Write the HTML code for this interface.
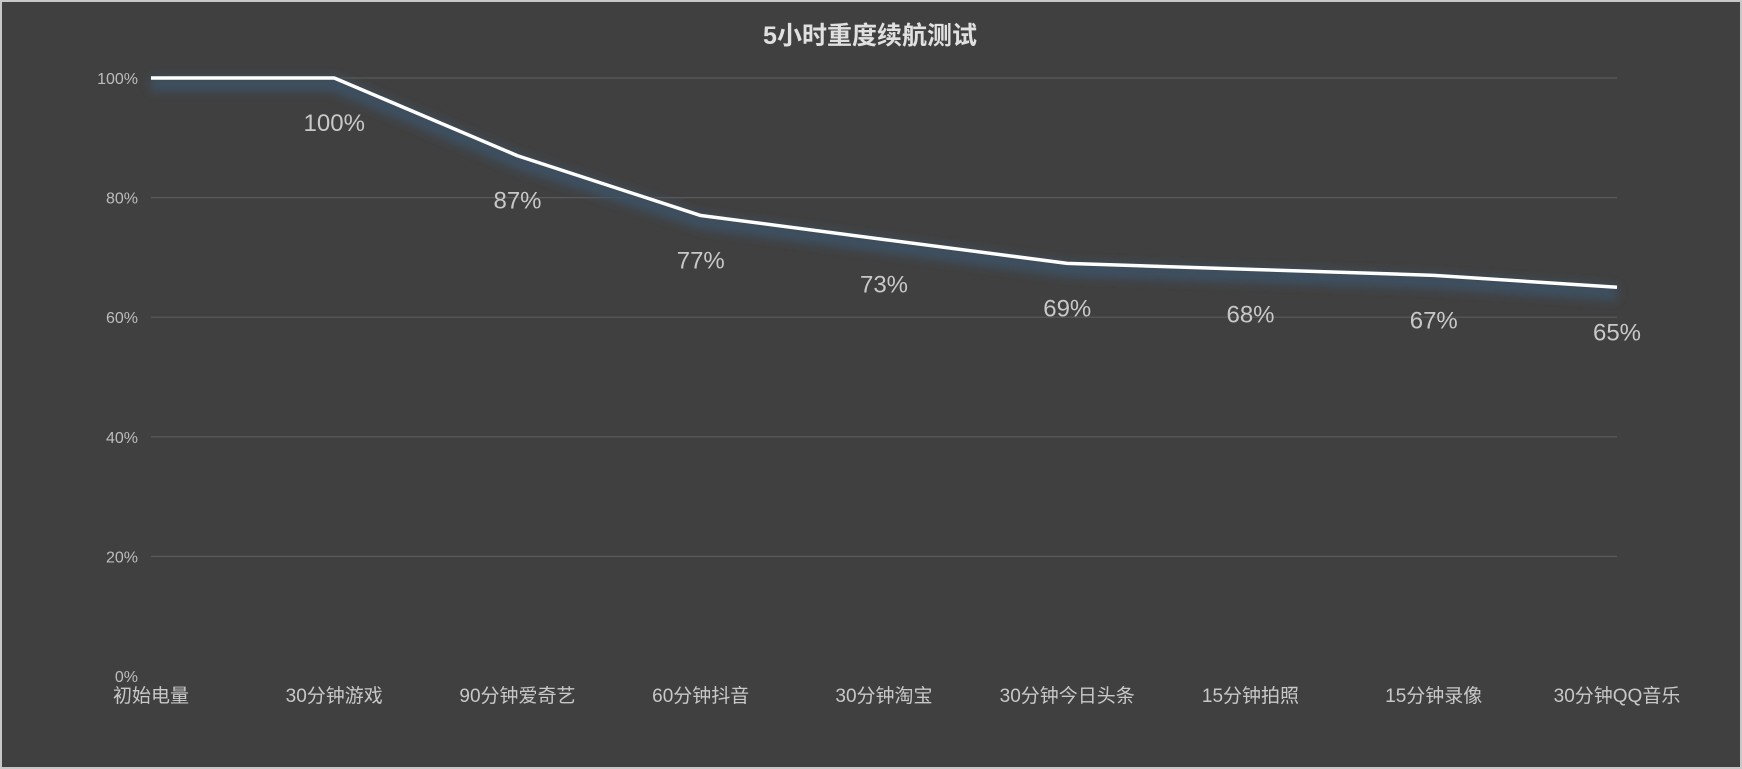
<!DOCTYPE html>
<html><head><meta charset="utf-8"><style>
html,body{margin:0;padding:0;background:#404040;}
svg{display:block;font-family:"Liberation Sans","Noto Sans CJK SC",sans-serif;}
</style></head><body>
<svg id="chart" width="1742" height="769" viewBox="0 0 1742 769">
<defs><filter id="blur" x="-10%" y="-50%" width="120%" height="200%"><feGaussianBlur stdDeviation="5"/></filter></defs>
<rect x="1" y="1" width="1740" height="767" fill="#404040" stroke="#c8c8c8" stroke-width="2"/>
<text x="870" y="44" text-anchor="middle" font-size="25" font-weight="bold" fill="#e0e0e0">5小时重度续航测试</text>
<g id="grid"></g><g id="yticks"></g><g id="xticks"></g><g id="series"></g><g id="labels"></g>
</svg>
<script>
const categories=["初始电量","30分钟游戏","90分钟爱奇艺","60分钟抖音","30分钟淘宝","30分钟今日头条","15分钟拍照","15分钟录像","30分钟QQ音乐"];
const values=[100,100,87,77,73,69,68,67,65];
const valueLabels=["","100%","87%","77%","73%","69%","68%","67%","65%"];
const yTicks=[0,20,40,60,80,100];
const yTickLabels=["0%","20%","40%","60%","80%","100%"];
const NS="http://www.w3.org/2000/svg";
const x0=151,x1=1617,yTop=78,yBot=676;
const xs=i=>x0+(x1-x0)*i/(categories.length-1);
const ys=v=>yBot-(yBot-yTop)*v/100;
function mk(tag,attrs,parent){const e=document.createElementNS(NS,tag);for(const k in attrs)e.setAttribute(k,attrs[k]);document.getElementById(parent).appendChild(e);return e;}
yTicks.forEach((t,i)=>{
  if(t>0){const l=mk('line',{x1:x0,x2:x1,y1:ys(t),y2:ys(t),stroke:'#5a5a5a','stroke-width':1.2},'grid');
  
  }
  const tx=mk('text',{x:138,y:ys(t)+6,'text-anchor':'end','font-size':16,fill:'#bdbdbd'},'yticks');
  tx.textContent=yTickLabels[i];
  
  
});
categories.forEach((c,i)=>{
  const tx=mk('text',{x:xs(i),y:702,'text-anchor':'middle','font-size':19,fill:'#c8c8c8'},'xticks');
  tx.textContent=c;
  
  
});
const pts=values.map((v,i)=>xs(i)+','+ys(v)).join(' ');
const glow=mk('polyline',{points:pts,fill:'none',stroke:'#3d5163','stroke-width':14,filter:'url(#blur)',transform:'translate(0,6)'},'series');


const line=mk('polyline',{points:pts,fill:'none',stroke:'#ffffff','stroke-width':3.5,'stroke-linejoin':'round'},'series');


values.forEach((v,i)=>{
  if(!valueLabels[i])return;
  const tx=mk('text',{x:xs(i),y:ys(v)+53,'text-anchor':'middle','font-size':24,fill:'#c8c8c8'},'labels');
  tx.textContent=valueLabels[i];
  
  
});
</script>
</body></html>
